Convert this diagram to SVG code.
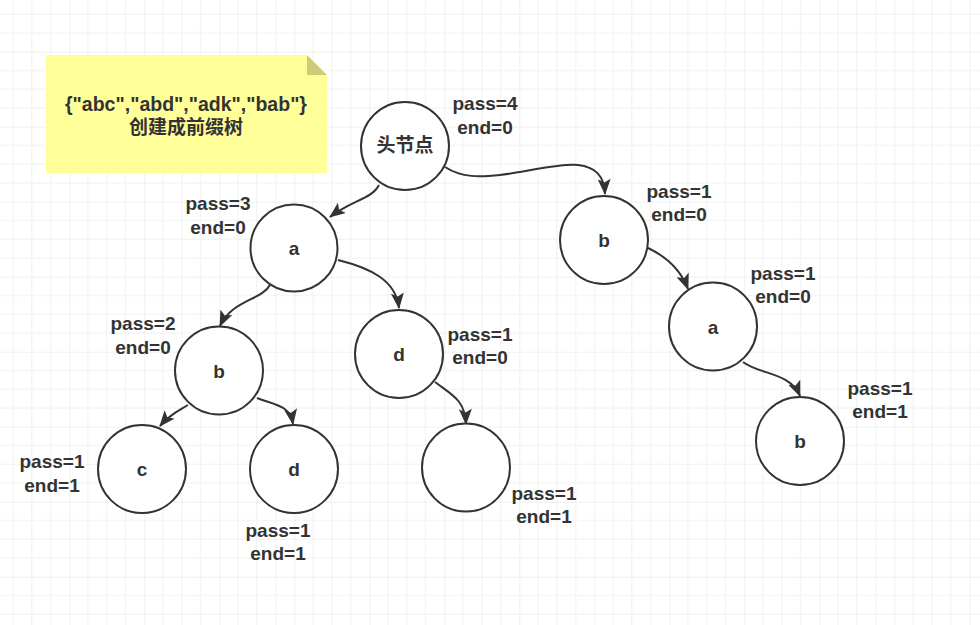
<svg xmlns="http://www.w3.org/2000/svg" width="980" height="625" viewBox="0 0 980 625">
<style>
.node circle{fill:#ffffff;stroke:#333333;stroke-width:2}
text{font-family:"Liberation Sans","Noto Sans CJK SC",sans-serif;font-weight:bold;font-size:19px;fill:#333333;text-anchor:middle}
.edge{fill:none;stroke:#333333;stroke-width:2}
</style>
<defs>
<pattern id="grid" x="-5.7" y="-23.3" width="75" height="75" patternUnits="userSpaceOnUse">
<path d="M18.75,0V75M37.5,0V75M56.25,0V75M0,18.75H75M0,37.5H75M0,56.25H75" stroke="#f0f0f0" stroke-width="1" fill="none"/>
<path d="M0,0V75M0,0H75" stroke="#e2e2e2" stroke-width="1" fill="none"/>
</pattern>
<marker id="arr" viewBox="0 0 16 13" refX="15" refY="6.5" markerWidth="16" markerHeight="13" markerUnits="userSpaceOnUse" orient="auto">
<path d="M0,0 L16,6.5 L0,13 L3.5,6.5 Z" fill="#333333"/>
</marker>
</defs>
<rect width="980" height="625" fill="#ffffff"/>
<rect width="980" height="625" fill="url(#grid)"/>

<g id="note">
<path d="M46,55 H307 L327,75 V173 H46 Z" fill="#ffff99"/>
<path d="M307,55 L327,75 H307 Z" fill="#cccc77"/>
<text x="186" y="111" style="font-size:19.5px">{"abc","abd","adk","bab"}</text>
<text x="186" y="134">创建成前缀树</text>
</g>

<g id="connectors">
<path class="edge" marker-end="url(#arr)" d="M379,185 C372,199 352,200 330,217"/>
<path class="edge" marker-end="url(#arr)" d="M445,167 C462,178 480,177 500,175 S560,163 578,165 C595,167 604,175 605,194"/>
<path class="edge" marker-end="url(#arr)" d="M338,260 C370,268 396,280 399,308"/>
<path class="edge" marker-end="url(#arr)" d="M270,285 C262,300 232,300 220,326"/>
<path class="edge" marker-end="url(#arr)" d="M188,405 C180,410 170,414 160,426"/>
<path class="edge" marker-end="url(#arr)" d="M257,398 C275,405 290,405 293,424"/>
<path class="edge" marker-end="url(#arr)" d="M435,382 C452,395 465,400 466,424"/>
<path class="edge" marker-end="url(#arr)" d="M648,248 C665,256 680,268 688,289"/>
<path class="edge" marker-end="url(#arr)" d="M743,362 C760,375 790,372 800,396"/>
</g>

<g id="root" class="node">
<circle cx="405" cy="146" r="44"/>
<text x="405" y="152">头节点</text>
<text x="485" y="110">pass=4</text>
<text x="485" y="134">end=0</text>
</g>
<g id="node-a" class="node">
<circle cx="294" cy="248" r="43.5"/>
<text x="294" y="255">a</text>
<text x="218" y="210">pass=3</text>
<text x="218" y="234">end=0</text>
</g>
<g id="node-b-right" class="node">
<circle cx="604" cy="240" r="44"/>
<text x="604" y="247">b</text>
<text x="679" y="198">pass=1</text>
<text x="679" y="221">end=0</text>
</g>
<g id="node-ab" class="node">
<circle cx="219" cy="370.5" r="44"/>
<text x="219" y="378">b</text>
<text x="143" y="330">pass=2</text>
<text x="143" y="354">end=0</text>
</g>
<g id="node-ad" class="node">
<circle cx="399" cy="354" r="44"/>
<text x="399" y="361">d</text>
<text x="480" y="341">pass=1</text>
<text x="480" y="364">end=0</text>
</g>
<g id="node-ba" class="node">
<circle cx="713" cy="326.5" r="44"/>
<text x="713" y="334">a</text>
<text x="783" y="280">pass=1</text>
<text x="783" y="303">end=0</text>
</g>
<g id="node-abc" class="node">
<circle cx="142" cy="469" r="44"/>
<text x="142" y="476">c</text>
<text x="52" y="468">pass=1</text>
<text x="52" y="492">end=1</text>
</g>
<g id="node-abd" class="node">
<circle cx="294" cy="469" r="44"/>
<text x="294" y="476">d</text>
<text x="278" y="537">pass=1</text>
<text x="278" y="560">end=1</text>
</g>
<g id="node-adk" class="node">
<circle cx="466" cy="467.5" r="44"/>
<text x="544" y="500">pass=1</text>
<text x="544" y="523">end=1</text>
</g>
<g id="node-bab" class="node">
<circle cx="800" cy="441" r="44"/>
<text x="800" y="448">b</text>
<text x="880" y="395">pass=1</text>
<text x="880" y="418">end=1</text>
</g>
</svg>
